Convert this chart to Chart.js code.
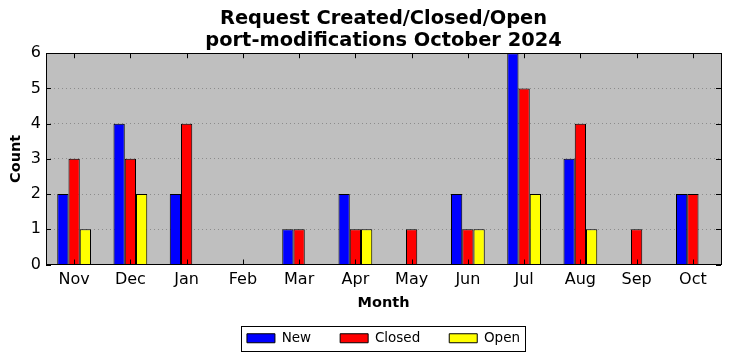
<!DOCTYPE html>
<html>
<head>
<meta charset="utf-8">
<script src="https://cdn.jsdelivr.net/npm/chart.js@4.4.1/dist/chart.umd.min.js"></script>
<style>
  html, body { margin: 0; padding: 0; background: #fff; }
  #wrap { width: 731px; height: 361px; }
</style>
</head>
<body>
<div id="wrap"><canvas id="reqChart"></canvas></div>
<script>
const months = ['Nov', 'Dec', 'Jan', 'Feb', 'Mar', 'Apr', 'May', 'Jun', 'Jul', 'Aug', 'Sep', 'Oct'];
const newCounts = [2, 4, 2, 0, 1, 2, 0, 2, 6, 3, 0, 2];
const closedCounts = [3, 3, 4, 0, 1, 1, 1, 1, 5, 4, 1, 2];
const openCounts = [1, 2, 0, 0, 0, 1, 0, 1, 2, 1, 0, 0];
const yTicks = [0, 1, 2, 3, 4, 5, 6];

const FONT = "'DejaVu Sans', sans-serif";

// grey plot background, black frame and inward ticks like the old matplotlib look
const framePlugin = {
    id: 'frame',
    beforeDatasetsDraw(chart) {
        const a = chart.chartArea;
        const ctx = chart.ctx;
        ctx.save();
        ctx.globalCompositeOperation = 'destination-over';
        ctx.fillStyle = '#bfbfbf';
        ctx.fillRect(a.left, a.top, a.right - a.left, a.bottom - a.top);
        ctx.restore();
    },
    afterDraw(chart) {
        const a = chart.chartArea;
        const ctx = chart.ctx;
        const x = chart.scales.x, y = chart.scales.y;
        ctx.save();
        ctx.strokeStyle = '#000';
        ctx.lineWidth = 1;
        ctx.beginPath();
        x.ticks.forEach((t, i) => {
            const px = Math.round(x.getPixelForTick(i)) + 0.5;
            ctx.moveTo(px, a.bottom); ctx.lineTo(px, a.bottom - 5);
            ctx.moveTo(px, a.top); ctx.lineTo(px, a.top + 5);
        });
        y.ticks.forEach((t, i) => {
            const py = Math.round(y.getPixelForTick(i)) + 0.5;
            ctx.moveTo(a.left, py); ctx.lineTo(a.left + 5, py);
            ctx.moveTo(a.right, py); ctx.lineTo(a.right - 5, py);
        });
        ctx.stroke();
        ctx.strokeRect(Math.round(a.left) + 0.5, Math.round(a.top) + 0.5,
            Math.round(a.right - a.left), Math.round(a.bottom - a.top));

        // box round the legend
        const hb = chart.legend.legendHitBoxes;
        if (hb && hb.length) {
            const l = Math.min(...hb.map(h => h.left)) - 6;
            const r = Math.max(...hb.map(h => h.left + h.width)) + 5;
            const cy = hb[0].top + hb[0].height / 2;
            ctx.strokeRect(Math.round(l) + 0.5, Math.round(cy - 12.5) + 0.5, Math.round(r - l), 25);
        }
        ctx.restore();
    }
};

const ctx = document.getElementById('reqChart').getContext('2d');
const reqChart = new Chart(ctx, {
    type: 'bar',
    data: {
        labels: months,
        datasets: [
            {
                label: 'New',
                data: newCounts,
                backgroundColor: '#0000ff',
                borderColor: '#000',
                borderWidth: 1
            },
            {
                label: 'Closed',
                data: closedCounts,
                backgroundColor: '#ff0000',
                borderColor: '#000',
                borderWidth: 1
            },
            {
                label: 'Open',
                data: openCounts,
                backgroundColor: '#ffff00',
                borderColor: '#000',
                borderWidth: 1
            }
        ]
    },
    options: {
        responsive: true,
        maintainAspectRatio: false,
        animation: false,
        datasets: {
            bar: { categoryPercentage: 0.6, barPercentage: 1.0 }
        },
        layout: { padding: { left: 0, right: 10, top: 0, bottom: 6 } },
        plugins: {
            title: {
                display: true,
                fullSize: false,
                text: ['Request Created/Closed/Open', 'port-modifications October 2024'],
                color: '#000',
                font: { family: FONT, size: 19.4, weight: 'bold', lineHeight: 1.14 },
                padding: { top: 8, bottom: 1 }
            },
            legend: {
                position: 'bottom',
                fullSize: false,
                labels: {
                    color: '#000',
                    font: { family: FONT, size: 13.5 },
                    boxWidth: 28,
                    boxHeight: 9,
                    padding: 29
                }
            },
            tooltip: { enabled: false }
        },
        scales: {
            x: {
                grid: { display: false, drawTicks: false },
                border: { display: false },
                ticks: { color: '#000', font: { family: FONT, size: 16 }, padding: 6, maxRotation: 0 },
                title: {
                    display: true,
                    text: 'Month',
                    color: '#000',
                    font: { family: FONT, size: 14.5, weight: 'bold' },
                    padding: { top: 2, bottom: -9 }
                },
                afterFit(scale) { scale.height = 38; }
            },
            y: {
                min: 0,
                max: 6,
                afterBuildTicks(scale) { scale.ticks = yTicks.map(v => ({ value: v })); },
                grid: { color: '#8c8c8c', lineWidth: 1, drawTicks: false },
                border: { display: false, dash: [1, 3] },
                ticks: { color: '#000', font: { family: FONT, size: 16 }, padding: 5 },
                title: {
                    display: true,
                    text: 'Count',
                    color: '#000',
                    font: { family: FONT, size: 14.5, weight: 'bold' },
                    padding: { top: 8, bottom: 0 }
                },
                afterFit(scale) { scale.width = 46; }
            }
        }
    },
    plugins: [framePlugin]
});
</script>
</body>
</html>
